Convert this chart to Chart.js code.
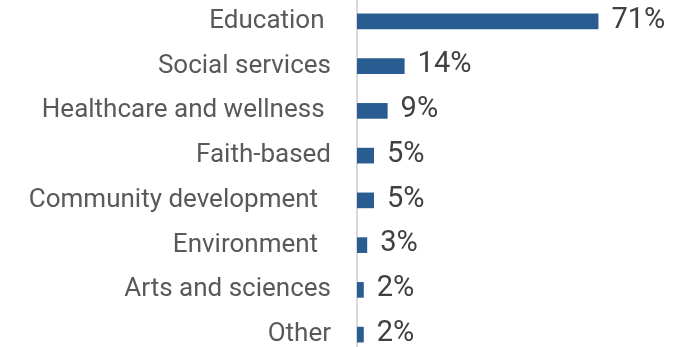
<!DOCTYPE html>
<html>
<head>
<meta charset="utf-8">
<script src="https://cdn.jsdelivr.net/npm/chart.js@4/dist/chart.umd.min.js"></script>
<style>
  html, body { margin: 0; padding: 0; background: #fff; overflow: hidden; }
  body { width: 692px; height: 347px; position: relative; }
  .wrap { position: absolute; left: 0; top: -1px; width: 692px; height: 358px; }
</style>
</head>
<body>
<div class="wrap"><canvas id="chart"></canvas></div>
<script>
const categories = [
  "Education ",
  "Social services",
  "Healthcare and wellness ",
  "Faith-based",
  "Community development  ",
  "Environment  ",
  "Arts and sciences",
  "Other"
];
const shares = [71, 14, 9, 5, 5, 3, 2, 2];

// value labels to the right of each bar
const valueLabels = {
  id: "valueLabels",
  afterDatasetsDraw(chart) {
    const ctx = chart.ctx;
    const meta = chart.getDatasetMeta(0);
    ctx.save();
    ctx.font = "29px Roboto";
    ctx.fillStyle = "#404040";
    ctx.textAlign = "left";
    ctx.textBaseline = "middle";
    meta.data.forEach((bar, i) => {
      ctx.fillText(shares[i] + "%", bar.x + 13, bar.y - 1);
    });
    ctx.restore();
  }
};

new Chart(document.getElementById("chart"), {
  type: "bar",
  data: {
    labels: categories,
    datasets: [{
      data: shares,
      backgroundColor: "#295d91",
      barPercentage: 0.35,
      categoryPercentage: 1
    }]
  },
  options: {
    indexAxis: "y",
    responsive: true,
    maintainAspectRatio: false,
    animation: false,
    layout: { padding: 0 },
    plugins: {
      legend: { display: false },
      tooltip: { enabled: false }
    },
    scales: {
      x: {
        display: false,
        min: 0,
        max: 98.5
      },
      y: {
        grid: { display: false, drawTicks: false },
        border: { display: true, color: "#d9d9d9", width: 2 },
        ticks: {
          color: "#595959",
          font: { family: "Roboto", size: 26 },
          padding: 26
        },
        afterFit(scale) {
          // fixed axis width, and let the category bands use the full height
          scale.width = 357;
          scale.paddingTop = 0;
          scale.paddingBottom = 0;
        }
      }
    }
  },
  plugins: [valueLabels]
});
</script>
</body>
</html>
